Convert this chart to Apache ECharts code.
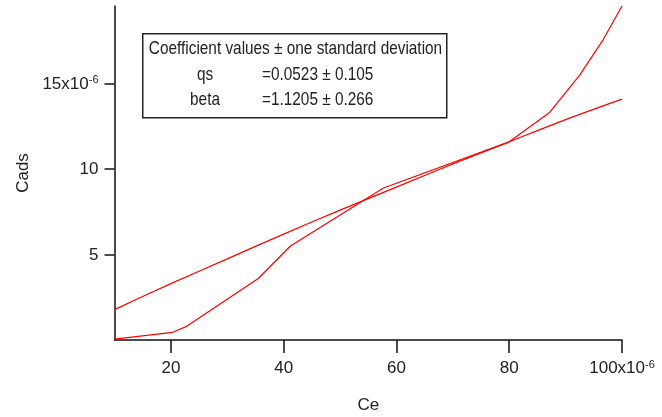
<!DOCTYPE html>
<html>
<head>
<meta charset="utf-8">
<script src="https://cdn.jsdelivr.net/npm/echarts@6/dist/echarts.min.js"></script>
<style>html,body{margin:0;padding:0;background:#fff}#c{width:662px;height:417px}</style>
</head>
<body>
<div id="c"></div>
<script>
// measured data (units of 1e-6)
var dataCe   = [10, 20.3, 22.8, 35.5, 41.2, 57.7, 80, 87.1, 92.5, 96.7, 100];
var dataCads = [0.05, 0.45, 0.8, 3.6, 5.5, 8.9, 11.6, 13.3, 15.5, 17.6, 19.55];
// fitted curve
var fitCe    = [10, 20, 30, 40, 50, 60, 70, 80, 90, 100];
var fitCads  = [1.78, 3.3, 4.75, 6.2, 7.6, 8.95, 10.3, 11.6, 12.9, 14.1];
var xTicks = [20, 40, 60, 80, 100];
var yTicks = [5, 10, 15];
var boxTitle = 'Coefficient values \u00b1 one standard deviation';
var coefNames = ['qs', 'beta'];
var coefValues = ['=0.0523 \u00b1 0.105', '=1.1205 \u00b1 0.266'];

function pairs(xs, ys){ return xs.map(function(x,i){ return [x, ys[i]]; }); }

var FONT = '"Liberation Sans", Arial, sans-serif';
var TXT = '#222';
var BOXFONT = '18.5px ' + FONT;
var SX = 0.83;

var chart = echarts.init(document.getElementById('c'), null, {renderer:'canvas'});
var graphics = [
  {type:'rect', left:142, top:33, shape:{width:304, height:84}, style:{fill:'#fff', stroke:'#222', lineWidth:1.5}, z:10},
  {type:'text', x:295.5, y:49, scaleX:SX, style:{text:boxTitle, font:BOXFONT, fill:TXT, align:'center', verticalAlign:'middle'}, z:11}
];
coefNames.forEach(function(n,i){
  graphics.push({type:'text', x:205, y:75+i*25, scaleX:SX, style:{text:n, font:BOXFONT, fill:TXT, align:'center', verticalAlign:'middle'}, z:11});
  graphics.push({type:'text', x:262, y:75+i*25, scaleX:SX, style:{text:coefValues[i], font:BOXFONT, fill:TXT, align:'left', verticalAlign:'middle'}, z:11});
});

chart.setOption({
  animation:false,
  backgroundColor:'#fff',
  grid:{left:114.5, right:40, top:6, bottom:77, containLabel:false, outerBoundsMode:'none'},
  xAxis:{
    type:'value', min:10, max:100,
    name:'Ce', nameLocation:'middle', nameGap:57,
    nameTextStyle:{fontFamily:FONT, fontSize:17, color:TXT},
    axisLine:{show:true, lineStyle:{color:'#111', width:1.5}},
    axisTick:{show:true, inside:false, length:13, customValues:xTicks, lineStyle:{color:'#111', width:1.5}},
    axisLabel:{customValues:xTicks, margin:19, fontFamily:FONT, fontSize:17, color:TXT,
      formatter:function(v){ return v===100 ? '{b|100x10}{s|-6}' : '{b|'+v+'}'; },
      rich:{b:{fontFamily:FONT, fontSize:17, color:TXT, lineHeight:18, verticalAlign:'bottom'},
            s:{fontFamily:FONT, fontSize:11, color:TXT, lineHeight:11, verticalAlign:'top', padding:[0,0,14,0]}}},
    splitLine:{show:false}
  },
  yAxis:{
    type:'value', min:0, max:19.55,
    name:'Cads', nameLocation:'middle', nameGap:77, nameRotate:90,
    nameTextStyle:{fontFamily:FONT, fontSize:17, color:TXT},
    axisLine:{show:true, lineStyle:{color:'#111', width:1.5}},
    axisTick:{show:true, inside:false, length:10, customValues:yTicks, lineStyle:{color:'#111', width:1.5}},
    axisLabel:{customValues:yTicks, margin:16, fontFamily:FONT, fontSize:17, color:TXT,
      formatter:function(v){ return v===15 ? '{b|15x10}{s|-6}' : '{b|'+v+'}'; },
      rich:{b:{fontFamily:FONT, fontSize:17, color:TXT, lineHeight:18, verticalAlign:'bottom'},
            s:{fontFamily:FONT, fontSize:11, color:TXT, lineHeight:11, verticalAlign:'top', padding:[0,0,18,0]}}},
    splitLine:{show:false}
  },
  series:[
    {type:'line', data:pairs(dataCe, dataCads), showSymbol:false, symbol:'none',
     lineStyle:{color:'#ff0000', width:1.2}, z:3},
    {type:'line', data:pairs(fitCe, fitCads), showSymbol:false, symbol:'none', smooth:0.3,
     lineStyle:{color:'#ff0000', width:1.2}, z:3}
  ],
  graphic:graphics
});
</script>
</body>
</html>
